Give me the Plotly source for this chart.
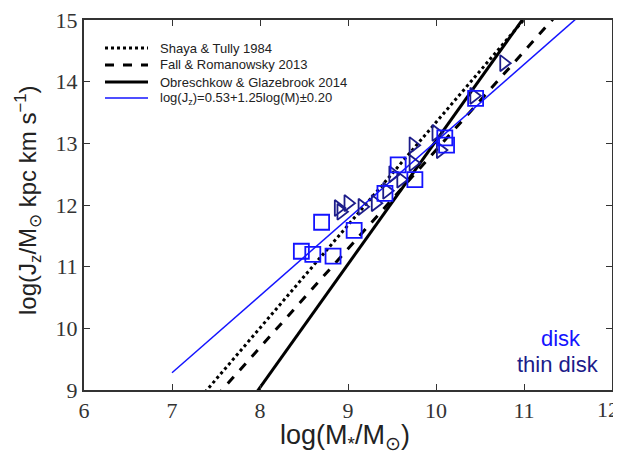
import plotly.graph_objects as go

# relation parameters (log J = a + b log M)
rel_names = ["Shaya & Tully 1984", "Fall & Romanowsky 2013", "Obreschkow & Glazebrook 2014"]
rel_a = [-3.33, -3.11, -6.96]
rel_b = [1.667, 1.60, 2.0]
rel_x = [6.0, 12.0]

fit_a = 0.53
fit_b = 1.25
fit_x = [7.0, 12.0]
fit_label = "log(J<sub>z</sub>)=0.53+1.25log(M)±0.20"

disk_x = [8.47, 8.60, 8.70, 8.83, 9.07, 9.42, 9.57, 9.76, 10.10, 10.12, 10.45]
disk_y = [11.25, 11.20, 11.72, 11.17, 11.59, 12.19, 12.65, 12.41, 13.09, 12.97, 13.73]

thin_x = [8.89, 8.92, 9.00, 9.16, 9.31, 9.44, 9.51, 9.60, 9.74, 9.74, 10.00, 10.05, 10.43, 10.77]
thin_y = [11.95, 11.89, 12.03, 11.97, 12.03, 12.23, 12.50, 12.41, 12.68, 12.97, 13.17, 12.89, 13.77, 14.30]

x_ticks = [6, 7, 8, 9, 10, 11, 12]
x_ticktext = ["6", "7", "8", "9", "10", "11", ""]  # "12" drawn separately so it is not clipped
y_ticks = [9, 10, 11, 12, 13, 14, 15]

BLUE = "#1414ff"
NAVY = "#1c1c8a"

# page body has an 8px margin: figure is sized to fit the window after it
OFF = 8
W, H = 621 - OFF, 457 - OFF
PL, PT, PW, PH = 84, 20, 528, 370  # plot area in window pixels
ML, MT = PL - OFF, PT - OFF
MR = W - ML - PW
MB = H - MT - PH


def px2paper(px, py):
    return (px - PL) / PW, 1 - (py - PT) / PH


fig = go.Figure()
dashes = ["dot", "dash", "solid"]
for name, a, b, d in zip(rel_names, rel_a, rel_b, dashes):
    fig.add_trace(go.Scatter(
        x=rel_x, y=[a + b * v for v in rel_x], mode="lines", name=name,
        showlegend=False, line=dict(color="black", width=3, dash=d)))

fig.add_trace(go.Scatter(
    x=fit_x, y=[fit_a + fit_b * v for v in fit_x], mode="lines",
    name=fit_label, showlegend=False, line=dict(color=BLUE, width=1.5)))

fig.add_trace(go.Scatter(
    x=thin_x, y=thin_y, mode="markers", showlegend=False, name="thin disk",
    marker=dict(symbol="triangle-right-open", size=14, color=NAVY,
                line=dict(width=1.8, color=NAVY))))
fig.add_trace(go.Scatter(
    x=disk_x, y=disk_y, mode="markers", showlegend=False, name="disk",
    marker=dict(symbol="square-open", size=15, color=BLUE,
                line=dict(width=1.8, color=BLUE))))

# manual legend (to match compact spacing)
leg_names = rel_names + [fit_label]
leg_styles = [("black", 3, "dot"), ("black", 3, "dash"), ("black", 3, "solid"), (BLUE, 1.5, "solid")]
leg_rows = [48, 65, 82, 98]
for name, (c, w, d), py in zip(leg_names, leg_styles, leg_rows):
    x0, y0 = px2paper(105, py)
    x1, _ = px2paper(148, py)
    fig.add_shape(type="line", xref="paper", yref="paper", x0=x0, x1=x1, y0=y0, y1=y0,
                  line=dict(color=c, width=w, dash=d))
    tx, ty = px2paper(158, py)
    fig.add_annotation(xref="paper", yref="paper", x=tx, y=ty, text=name, showarrow=False,
                       xanchor="left", yanchor="middle",
                       font=dict(family="Liberation Sans", size=13, color="#222222"))

tx, ty = px2paper(561, 338)
fig.add_annotation(xref="paper", yref="paper", x=tx, y=ty, text="disk", showarrow=False,
                   xanchor="center", yanchor="middle",
                   font=dict(family="Liberation Sans", size=22, color=BLUE))
tx, ty = px2paper(558, 364)
fig.add_annotation(xref="paper", yref="paper", x=tx, y=ty, text="thin disk", showarrow=False,
                   xanchor="center", yanchor="middle",
                   font=dict(family="Liberation Sans", size=22, color=NAVY))

# last x tick label, right-aligned at the window edge
tx, ty = px2paper(621, 410)
fig.add_annotation(xref="paper", yref="paper", x=tx, y=ty, text="12", showarrow=False,
                   xanchor="right", yanchor="middle",
                   font=dict(family="Liberation Serif", size=22, color="#333333"))

# axis titles
tx, ty = px2paper(345, 437)
fig.add_annotation(xref="paper", yref="paper", x=tx, y=ty, showarrow=False,
                   text="log(M<sub>*</sub>/M<sub>⊙</sub>)", xanchor="center", yanchor="middle",
                   font=dict(family="Liberation Sans", size=27, color="#222222"))
tx, ty = px2paper(28, 200)
fig.add_annotation(xref="paper", yref="paper", x=tx, y=ty, showarrow=False, textangle=-90,
                   text="log(J<sub>z</sub>/M<sub>⊙</sub> kpc km s<sup>−1</sup>)",
                   xanchor="center", yanchor="middle",
                   font=dict(family="Liberation Sans", size=24, color="#222222"))

axis_common = dict(
    showgrid=False, zeroline=False, showline=True, linecolor="#333333", linewidth=2,
    mirror="ticks", ticks="inside", ticklen=6, tickwidth=1.2, tickcolor="#333333",
    tickfont=dict(family="Liberation Serif", size=22, color="#333333"),
    automargin=False, ticklabeloverflow="allow",
)

fig.update_xaxes(range=[6, 12], tickvals=x_ticks, ticktext=x_ticktext, **axis_common)
fig.update_yaxes(range=[9, 15], tickvals=y_ticks, **axis_common)

fig.update_layout(
    width=W, height=H,
    margin=dict(l=ML, r=MR, t=MT, b=MB),
    plot_bgcolor="white", paper_bgcolor="white",
    showlegend=False,
)

fig.write_html("out.html")
